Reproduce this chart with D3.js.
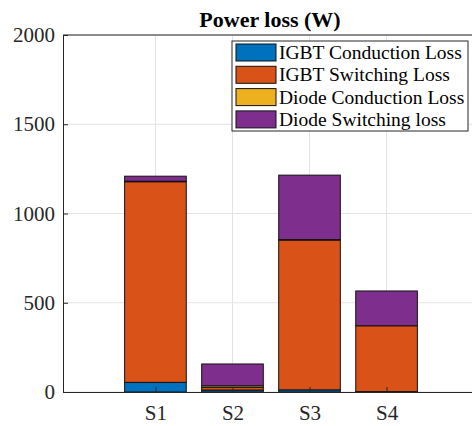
<!DOCTYPE html>
<html>
<head>
<meta charset="utf-8">
<script src="https://cdn.jsdelivr.net/npm/d3@7"></script>
<style>
  body { margin: 0; background: #fff; }
  svg { display: block; }
  svg text { font-family: "Liberation Serif", "Times New Roman", serif; }
</style>
</head>
<body>
<div id="chart"></div>
<script>
// data
const categories = ["S1", "S2", "S3", "S4"];
const seriesNames = ["IGBT Conduction Loss", "IGBT Switching Loss", "Diode Conduction Loss", "Diode Switching loss"];
const igbtConduction = [54, 11, 12, 2];
const igbtSwitching = [1124, 15, 839, 369];
const diodeConduction = [3, 9, 3, 0];
const diodeSwitching = [28, 122, 361, 195];
const yTicks = [0, 500, 1000, 1500, 2000];

const colors = ["#0072BD", "#D95319", "#EDB120", "#7E2F8E"];

// 1. dimensions
const dimensions = {
  width: 472,
  height: 426,
  margin: { top: 35, right: -7, bottom: 34, left: 63 }
};
dimensions.boundedWidth = dimensions.width - dimensions.margin.left - dimensions.margin.right;
dimensions.boundedHeight = dimensions.height - dimensions.margin.top - dimensions.margin.bottom;

// 2. canvas
const wrapper = d3.select("#chart")
  .append("svg")
    .attr("width", dimensions.width)
    .attr("height", dimensions.height);

const bounds = wrapper.append("g")
  .attr("transform", `translate(${dimensions.margin.left},${dimensions.margin.top})`);

// 3. scales
const xScale = d3.scaleLinear()
  .domain([-0.2, 5.2])
  .range([0, dimensions.boundedWidth]);

const yScale = d3.scaleLinear()
  .domain([0, 2000])
  .range([dimensions.boundedHeight, 0]);

// 4. grid
bounds.append("g")
  .selectAll("line")
  .data(yTicks)
  .join("line")
    .attr("x1", 0)
    .attr("x2", dimensions.boundedWidth)
    .attr("y1", d => yScale(d))
    .attr("y2", d => yScale(d))
    .attr("stroke", "#e3e3e3");

bounds.append("g")
  .selectAll("line")
  .data(categories)
  .join("line")
    .attr("x1", (d, i) => xScale(i + 1))
    .attr("x2", (d, i) => xScale(i + 1))
    .attr("y1", 0)
    .attr("y2", dimensions.boundedHeight)
    .attr("stroke", "#e3e3e3");

// 5. stacked bars
const table = categories.map((c, i) => ({
  cat: c,
  idx: i + 1,
  s0: igbtConduction[i],
  s1: igbtSwitching[i],
  s2: diodeConduction[i],
  s3: diodeSwitching[i]
}));
const stack = d3.stack().keys(["s0", "s1", "s2", "s3"])(table);
const barWidth = xScale(0.8) - xScale(0);

bounds.append("g")
  .selectAll("g")
  .data(stack)
  .join("g")
    .attr("fill", (d, i) => colors[i])
  .selectAll("rect")
  .data(d => d)
  .join("rect")
    .attr("x", d => xScale(d.data.idx) - barWidth / 2)
    .attr("width", barWidth)
    .attr("y", d => yScale(d[1]))
    .attr("height", d => yScale(d[0]) - yScale(d[1]))
    .attr("stroke", "#111")
    .attr("stroke-width", 1);

// 6. axes
const yAxis = d3.axisLeft(yScale)
  .tickValues(yTicks)
  .tickFormat(d3.format("d"))
  .tickSize(-5)
  .tickPadding(8);
const yAxisG = bounds.append("g").call(yAxis).attr("font-family", null);
yAxisG.select(".domain").attr("stroke", "#262626");
yAxisG.selectAll(".tick line").attr("stroke", "#262626");
yAxisG.selectAll("text")
  .attr("fill", "#262626")
  .style("font-size", "21px");

const xAxis = d3.axisBottom(xScale)
  .tickValues([1, 2, 3, 4])
  .tickFormat(d => categories[d - 1])
  .tickSize(-5)
  .tickPadding(13);
const xAxisG = bounds.append("g")
  .attr("transform", `translate(0,${dimensions.boundedHeight})`)
  .call(xAxis)
  .attr("font-family", null);
xAxisG.select(".domain").attr("stroke", "#262626");
xAxisG.selectAll(".tick line").attr("stroke", "#262626");
xAxisG.selectAll("text")
  .attr("fill", "#262626")
  .style("font-size", "21px");

// top box line
bounds.append("line")
  .attr("x1", 0)
  .attr("x2", dimensions.boundedWidth)
  .attr("y1", 0)
  .attr("y2", 0)
  .attr("stroke", "#262626");

// 7. title
wrapper.append("text")
  .attr("x", 270)
  .attr("y", 27)
  .attr("text-anchor", "middle")
  .style("font-size", "22px")
  .style("font-weight", "bold")
  .text("Power loss (W)");

// 8. legend
const legend = wrapper.append("g").attr("transform", "translate(232,41)");
legend.append("rect")
  .attr("width", 236)
  .attr("height", 90)
  .attr("fill", "#fff")
  .attr("stroke", "#262626");

const items = legend.selectAll("g")
  .data(seriesNames)
  .join("g")
    .attr("transform", (d, i) => `translate(4,${3 + i * 22.3})`);

items.append("rect")
  .attr("width", 40)
  .attr("height", 17)
  .attr("fill", (d, i) => colors[i])
  .attr("stroke", "#111");

items.append("text")
  .attr("x", 43)
  .attr("y", 15)
  .style("font-size", "19.5px")
  .attr("fill", "#000")
  .text(d => d);
</script>
</body>
</html>
